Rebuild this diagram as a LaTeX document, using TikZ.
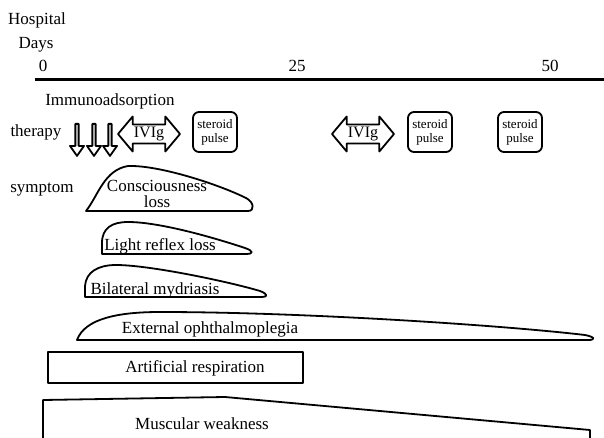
\documentclass[tikz,border=0pt]{standalone}
\usepackage{fontspec}
\setmainfont{Liberation Serif}
\usetikzlibrary{arrows.meta, calc, shapes.arrows}

\begin{document}
\begin{tikzpicture}[x=1pt, y=-1pt, line width=1.8pt, line join=round,
  every node/.style={font=\fontsize{17}{18}\selectfont, inner sep=0pt},
  downarrow/.style={draw, single arrow, shape border rotate=270, single arrow head extend=3pt, single arrow tip angle=70, minimum height=32pt, minimum width=14pt, anchor=tail},
  ivig/.style={draw, double arrow, double arrow head extend=6.5pt, double arrow tip angle=100, minimum height=62pt, minimum width=35pt, font=\fontsize{16}{18}\selectfont},
  steroid/.style={draw, rounded corners=6pt, align=center, minimum width=44pt, minimum height=40pt, font=\fontsize{13}{14}\selectfont}]
  \useasboundingbox (0,0) rectangle (604,438);

  \node (hospital) at (37,20) {Hospital};
  \node (days) at (36,45) {Days};
  \node (day0) at (43,66) {0};
  \node (day25) at (297,66) {25};
  \node (day50) at (550,66) {50};
  \draw[line width=3pt] (35,80) -- (604,80);

  \node (immuno) at (110,101) {Immunoadsorption};
  \node (therapy) at (36,132) {therapy};
  \node[downarrow] (ia1) at (77,123) {};
  \node[downarrow] (ia2) at (94,123) {};
  \node[downarrow] (ia3) at (110,123) {};
  \node[ivig] (ivig1) at (149,134) {IVIg};
  \node[steroid] (pulse1) at (215,132) {steroid\\pulse};
  \node[ivig] (ivig2) at (363,134) {IVIg};
  \node[steroid] (pulse2) at (430,132) {steroid\\pulse};
  \node[steroid] (pulse3) at (520,132) {steroid\\pulse};

  \node (symptom) at (42,190) {symptom};
  \draw (86,211) .. controls (98,196) and (104,170) .. (128,166) .. controls (160,165) and (220,185) .. (246,198) .. controls (254,202) and (255,211) .. (248,211) -- cycle;
  \node[align=center, font=\fontsize{17}{15.5}\selectfont] (conscious) at (157,194) {Consciousness\\loss};
  \draw (102,254) -- (102,243) .. controls (102,228) and (112,222) .. (128,222) .. controls (160,222) and (215,238) .. (245,248) .. controls (254,251) and (253,254) .. (247,254) -- cycle;
  \node (reflex) at (160,246) {Light reflex loss};
  \draw (85,297) -- (85,286) .. controls (86,272) and (98,265) .. (116,265) .. controls (150,265) and (230,282) .. (260,291) .. controls (268,294) and (268,297) .. (262,297) -- cycle;
  \node (mydriasis) at (155,290) {Bilateral mydriasis};
  \draw (77,340) .. controls (85,318) and (120,312) .. (160,312) .. controls (300,312) and (500,325) .. (585,335) .. controls (595,337) and (596,340) .. (588,340) -- cycle;
  \node (ophthal) at (210,329) {External ophthalmoplegia};
  \draw (48,352) rectangle (303,383);
  \node (respiration) at (195,368) {Artificial respiration};
  \draw (43,438) -- (43,400) -- (225,397) -- (590,430) -- (590,438);
  \node (weakness) at (202,424) {Muscular weakness};
\end{tikzpicture}
\end{document}
